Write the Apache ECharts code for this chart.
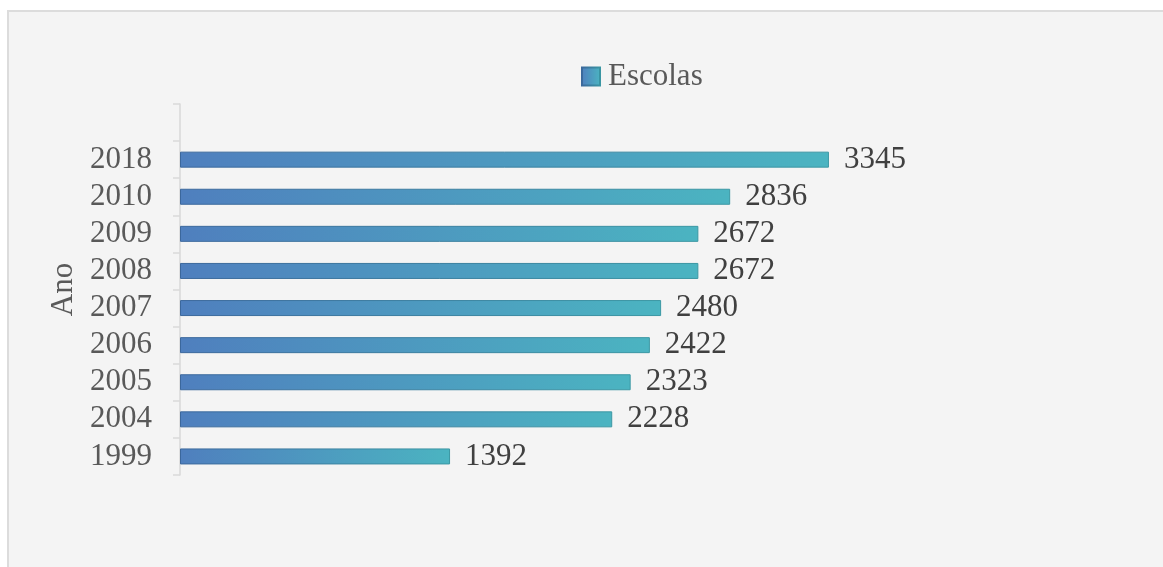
<!DOCTYPE html>
<html>
<head>
<meta charset="utf-8">
<script src="https://cdn.jsdelivr.net/npm/echarts@6/dist/echarts.min.js"></script>
<style>
  html, body { margin: 0; padding: 0; background: #ffffff; }
  #chart {
    position: absolute;
    left: 7px;
    top: 10px;
    width: 1154px;
    height: 557px;
    background: #f4f4f4;
    border-left: 2px solid #dcdcdc;
    border-top: 2px solid #dcdcdc;
  }
</style>
</head>
<body>
<div id="chart"></div>
<script>
// categorias (de cima para baixo), primeira fica vazia como no original
const anos = ['', '2018', '2010', '2009', '2008', '2007', '2006', '2005', '2004', '1999']
const escolas = [null, 3345, 2836, 2672, 2672, 2480, 2422, 2323, 2228, 1392]

const font = '"Liberation Serif", "Times New Roman", serif'

const barFill = new echarts.graphic.LinearGradient(0, 0, 1, 0, [
  { offset: 0, color: '#4f7fbe' },
  { offset: 1, color: '#4bb4c1' },
])
const barBorder = new echarts.graphic.LinearGradient(0, 0, 1, 0, [
  { offset: 0, color: '#3b679c' },
  { offset: 1, color: '#3a97a3' },
])

const chart = echarts.init(document.getElementById('chart'))

chart.setOption({
  animation: false,
  textStyle: { fontFamily: font },
  legend: {
    left: 567,
    top: 44,
    itemWidth: 18,
    itemHeight: 18,
    itemGap: 8,
    icon: 'rect',
    textStyle: { fontFamily: font, fontSize: 31, color: '#595959', padding: [0, 0, 0, 3] },
    data: ['Escolas'],
  },
  grid: { left: 171, top: 92, width: 776, height: 371 },
  xAxis: {
    type: 'value',
    min: 0,
    max: 4000,
    show: false,
  },
  yAxis: {
    type: 'category',
    inverse: true,
    data: anos,
    name: 'Ano',
    nameLocation: 'middle',
    nameGap: 95,
    nameRotate: 90,
    nameTextStyle: { fontFamily: font, fontSize: 31, color: '#595959' },
    axisLine: { show: true, lineStyle: { color: '#d9d9d9', width: 1.5 } },
    axisTick: { show: true, length: 7, lineStyle: { color: '#d9d9d9', width: 1.5 } },
    axisLabel: {
      interval: 0,
      margin: 28,
      fontFamily: font,
      fontSize: 31,
      color: '#595959',
    },
    splitLine: { show: false },
  },
  series: [
    {
      name: 'Escolas',
      type: 'bar',
      data: escolas,
      barWidth: 16,
      itemStyle: { color: barFill, borderColor: barBorder, borderWidth: 1 },
      label: {
        show: true,
        position: 'right',
        distance: 15,
        fontFamily: font,
        fontSize: 31,
        color: '#404040',
      },
    },
  ],
})
</script>
</body>
</html>
